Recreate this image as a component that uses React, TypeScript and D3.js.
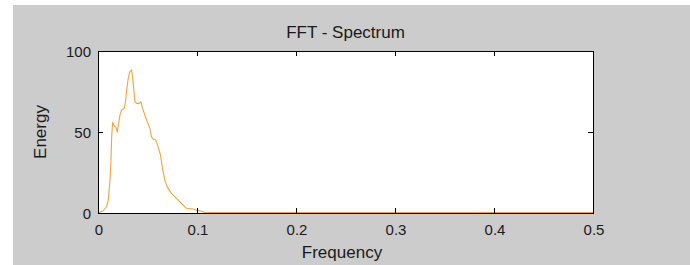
import React from 'react';
import * as d3 from 'd3';

// spectrum
const freq = [
  0, 0.0054, 0.0087, 0.0104, 0.0121, 0.013, 0.0138, 0.0148, 0.016, 0.018, 0.0195,
  0.0208, 0.022, 0.0238, 0.0265, 0.0278, 0.0289, 0.0305, 0.0322, 0.0339, 0.0349,
  0.0362, 0.0373, 0.039, 0.0416, 0.0433, 0.045, 0.0473, 0.0497, 0.0524, 0.054,
  0.0557, 0.0584, 0.0607, 0.0631, 0.0651, 0.0675, 0.0698, 0.0742, 0.0792, 0.0843,
  0.0893, 0.096, 0.0994, 0.1027, 0.1077, 0.115, 0.2, 0.3, 0.4, 0.5,
];
const energy = [
  0, 1.4, 4, 8, 20, 31, 47, 56, 54, 53, 50,
  55, 60, 63.6, 64.6, 68.7, 76, 83, 87.2, 88.3, 84,
  76, 68.7, 67.7, 67.7, 68.7, 64.6, 60.5, 56.4, 52.3, 47,
  45.7, 45, 41, 35.8, 27.6, 20.4, 16.3, 12.1, 9, 6,
  2.9, 2.5, 1.9, 1.4, 0.4, 0.3, 0.3, 0.3, 0.3, 0.3,
];
const xTicks = [0, 0.1, 0.2, 0.3, 0.4, 0.5];
const yTicks = [0, 50, 100];

const W = 690;
const H = 265;
const font = '"Liberation Sans", Arial, sans-serif';

const App: React.FC = () => {
  const x = d3.scaleLinear().domain([0, 0.5]).range([98, 593]);
  const y = d3.scaleLinear().domain([0, 100]).range([213, 51]);

  const line = d3.line<number>()
    .x((_, i) => x(freq[i]))
    .y((d) => y(d));

  const left = x(0), right = x(0.5), top = y(100), bottom = y(0);
  const tick = 5;

  return (
    <div>
      <style>{'body{margin:0}'}</style>
      <svg width={W} height={H} style={{ display: 'block', background: '#fff' }}>
        <rect x={13} y={5} width={W - 13} height={H - 5} fill="#cccccc" />
        <rect x={left} y={top} width={right - left} height={bottom - top} fill="#fff" />

        <path d={line(energy) || ''} fill="none" stroke="#f2a43a" strokeWidth={1.1} strokeLinejoin="round" />

        {/* box */}
        <rect x={left + 0.5} y={top + 0.5} width={right - left} height={bottom - top}
          fill="none" stroke="#000" strokeWidth={1} />

        {/* x ticks */}
        {xTicks.map((t) => (
          <g key={'x' + t}>
            <line x1={Math.round(x(t)) + 0.5} x2={Math.round(x(t)) + 0.5} y1={bottom} y2={bottom - tick} stroke="#000" />
            <line x1={Math.round(x(t)) + 0.5} x2={Math.round(x(t)) + 0.5} y1={top} y2={top + tick} stroke="#000" />
            <text x={x(t) + 1} y={235} textAnchor="middle" fontFamily={font} fontSize={15} fill="#1a1a1a">
              {String(t)}
            </text>
          </g>
        ))}

        {/* y ticks */}
        {yTicks.map((t) => (
          <g key={'y' + t}>
            <line x1={left} x2={left + tick} y1={Math.round(y(t)) + 0.5} y2={Math.round(y(t)) + 0.5} stroke="#000" />
            <line x1={right} x2={right - tick} y1={Math.round(y(t)) + 0.5} y2={Math.round(y(t)) + 0.5} stroke="#000" />
            <text x={91} y={y(t) + 5.5} textAnchor="end" fontFamily={font} fontSize={15} fill="#1a1a1a">
              {String(t)}
            </text>
          </g>
        ))}

        <text x={(left + right) / 2} y={38} textAnchor="middle" fontFamily={font} fontSize={17} fill="#1a1a1a">
          FFT - Spectrum
        </text>
        <text x={342} y={258} textAnchor="middle" fontFamily={font} fontSize={17} fill="#1a1a1a">
          Frequency
        </text>
        <text transform={`translate(46,${(top + bottom) / 2}) rotate(-90)`} textAnchor="middle"
          fontFamily={font} fontSize={17} fill="#1a1a1a">
          Energy
        </text>
      </svg>
    </div>
  );
};

export default App;
